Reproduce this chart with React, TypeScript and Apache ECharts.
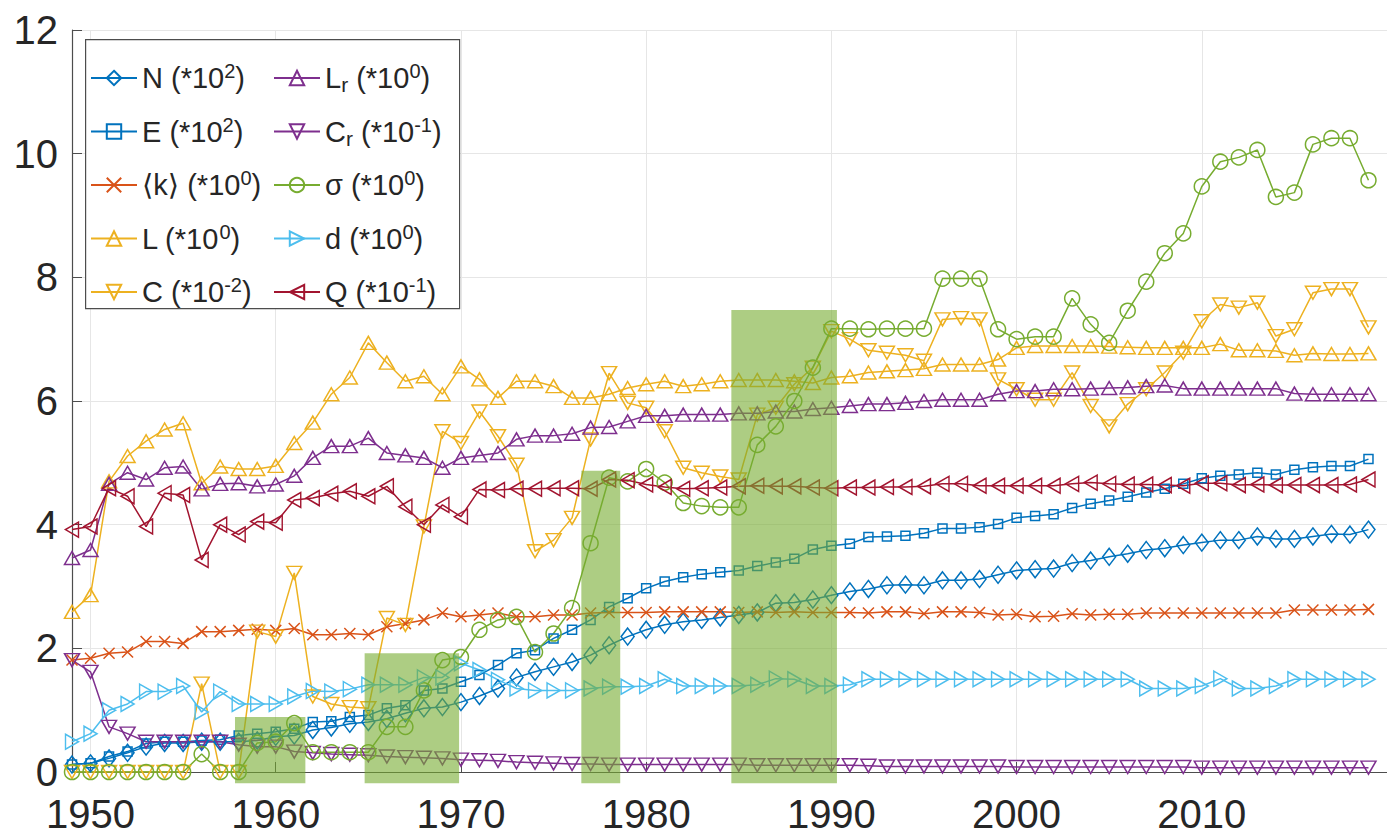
import React, { useEffect, useRef } from 'react';
import * as echarts from 'echarts';

const years = [
  1949, 1950, 1951, 1952, 1953, 1954, 1955, 1956, 1957, 1958,
  1959, 1960, 1961, 1962, 1963, 1964, 1965, 1966, 1967, 1968,
  1969, 1970, 1971, 1972, 1973, 1974, 1975, 1976, 1977, 1978,
  1979, 1980, 1981, 1982, 1983, 1984, 1985, 1986, 1987, 1988,
  1989, 1990, 1991, 1992, 1993, 1994, 1995, 1996, 1997, 1998,
  1999, 2000, 2001, 2002, 2003, 2004, 2005, 2006, 2007, 2008,
  2009, 2010, 2011, 2012, 2013, 2014, 2015, 2016, 2017, 2018, 2019,
];

const N = [
  0.12, 0.14, 0.22, 0.31, 0.41, 0.47, 0.47, 0.49, 0.49, 0.49,
  0.51, 0.57, 0.59, 0.68, 0.72, 0.78, 0.81, 0.86, 0.95, 1.03,
  1.05, 1.13, 1.23, 1.35, 1.53, 1.62, 1.70, 1.78, 1.89, 2.05,
  2.19, 2.30, 2.38, 2.43, 2.46, 2.50, 2.54, 2.58, 2.73, 2.74,
  2.79, 2.86, 2.92, 2.96, 3.02, 3.03, 3.02, 3.10, 3.10, 3.12,
  3.19, 3.26, 3.28, 3.29, 3.38, 3.42, 3.48, 3.53, 3.59, 3.62,
  3.67, 3.71, 3.75, 3.75, 3.81, 3.77, 3.77, 3.81, 3.85, 3.84, 3.92,
];
const E = [
  0.12, 0.14, 0.25, 0.33, 0.46, 0.49, 0.49, 0.51, 0.52, 0.59,
  0.62, 0.65, 0.70, 0.81, 0.82, 0.89, 0.92, 1.03, 1.08, 1.32,
  1.35, 1.46, 1.57, 1.73, 1.92, 1.97, 2.16, 2.30, 2.46, 2.67,
  2.81, 2.97, 3.08, 3.15, 3.20, 3.23, 3.26, 3.33, 3.39, 3.45,
  3.60, 3.66, 3.69, 3.80, 3.81, 3.82, 3.86, 3.94, 3.94, 3.96,
  4.01, 4.11, 4.14, 4.17, 4.27, 4.34, 4.39, 4.45, 4.52, 4.58,
  4.66, 4.75, 4.79, 4.81, 4.84, 4.81, 4.89, 4.93, 4.95, 4.95, 5.06,
];
const K = [
  1.81, 1.84, 1.92, 1.94, 2.11, 2.11, 2.08, 2.27, 2.27, 2.29,
  2.31, 2.29, 2.32, 2.22, 2.22, 2.24, 2.22, 2.35, 2.40, 2.46,
  2.57, 2.51, 2.54, 2.57, 2.51, 2.51, 2.54, 2.54, 2.57, 2.58,
  2.58, 2.58, 2.59, 2.59, 2.59, 2.59, 2.58, 2.59, 2.58, 2.59,
  2.58, 2.58, 2.58, 2.57, 2.59, 2.59, 2.56, 2.59, 2.59, 2.58,
  2.54, 2.55, 2.51, 2.52, 2.56, 2.54, 2.55, 2.55, 2.57, 2.57,
  2.57, 2.57, 2.57, 2.57, 2.57, 2.57, 2.62, 2.62, 2.62, 2.62, 2.63,
];
const L = [
  2.59, 2.86, 4.70, 5.11, 5.35, 5.54, 5.64, 4.67, 4.94, 4.90,
  4.90, 4.95, 5.32, 5.65, 6.11, 6.38, 6.94, 6.62, 6.32, 6.40,
  6.11, 6.56, 6.35, 6.05, 6.32, 6.32, 6.24, 6.05, 6.05, 6.11,
  6.21, 6.27, 6.32, 6.24, 6.27, 6.32, 6.34, 6.34, 6.34, 6.32,
  6.29, 6.38, 6.40, 6.46, 6.48, 6.50, 6.52, 6.59, 6.59, 6.59,
  6.67, 6.86, 6.89, 6.89, 6.89, 6.89, 6.88, 6.87, 6.86, 6.86,
  6.86, 6.86, 6.92, 6.82, 6.82, 6.81, 6.74, 6.77, 6.76, 6.76, 6.77,
];
const C = [
  0, 0, 0, 0, 0, 0, 0, 1.43, 0, 0,
  2.27, 2.19, 3.22, 1.22, 1.10, 1.05, 1.03, 2.49, 2.38, 3.97,
  5.51, 5.32, 5.83, 5.43, 4.97, 3.57, 3.75, 4.11, 5.38, 6.45,
  5.97, 5.89, 5.51, 4.92, 4.84, 4.78, 4.73, 5.78, 5.89, 6.27,
  6.54, 7.13, 7.00, 6.82, 6.78, 6.74, 6.65, 7.32, 7.34, 7.32,
  6.35, 6.19, 6.02, 6.02, 6.46, 5.92, 5.59, 5.95, 6.19, 6.46,
  6.78, 7.29, 7.56, 7.51, 7.59, 7.05, 7.16, 7.75, 7.81, 7.81, 7.19,
];
const Lr = [
  3.46, 3.59, 4.66, 4.84, 4.73, 4.92, 4.94, 4.57, 4.66, 4.67,
  4.62, 4.65, 4.79, 5.08, 5.27, 5.27, 5.40, 5.16, 5.12, 5.08,
  4.92, 5.08, 5.12, 5.16, 5.38, 5.44, 5.44, 5.47, 5.57, 5.58,
  5.67, 5.76, 5.76, 5.78, 5.78, 5.78, 5.80, 5.80, 5.83, 5.83,
  5.87, 5.89, 5.92, 5.95, 5.95, 5.97, 6.00, 6.02, 6.02, 6.02,
  6.11, 6.16, 6.16, 6.19, 6.19, 6.20, 6.21, 6.22, 6.24, 6.25,
  6.20, 6.20, 6.20, 6.20, 6.20, 6.20, 6.12, 6.11, 6.11, 6.11, 6.11,
];
const Cr = [
  1.81, 1.62, 0.73, 0.62, 0.49, 0.49, 0.49, 0.49, 0.49, 0.44,
  0.41, 0.41, 0.33, 0.31, 0.29, 0.28, 0.27, 0.25, 0.24, 0.23,
  0.22, 0.20, 0.19, 0.18, 0.16, 0.15, 0.14, 0.13, 0.13, 0.12,
  0.12, 0.12, 0.12, 0.12, 0.12, 0.12, 0.12, 0.11, 0.11, 0.11,
  0.11, 0.11, 0.11, 0.10, 0.09, 0.09, 0.09, 0.09, 0.09, 0.09,
  0.09, 0.08, 0.08, 0.08, 0.08, 0.08, 0.08, 0.08, 0.08, 0.08,
  0.08, 0.07, 0.07, 0.07, 0.07, 0.07, 0.07, 0.07, 0.07, 0.07, 0.07,
];
const SIGMA = [
  0, 0, 0, 0, 0, 0, 0, 0.29, 0, 0,
  0.47, 0.49, 0.79, 0.32, 0.32, 0.32, 0.32, 0.73, 0.73, 1.32,
  1.81, 1.86, 2.30, 2.46, 2.51, 1.94, 2.24, 2.65, 3.70, 4.76,
  4.70, 4.90, 4.68, 4.35, 4.30, 4.28, 4.28, 5.29, 5.59, 6.00,
  6.54, 7.17, 7.17, 7.16, 7.17, 7.17, 7.17, 7.98, 7.98, 7.98,
  7.16, 7.00, 7.04, 7.04, 7.66, 7.24, 6.94, 7.46, 7.93, 8.39,
  8.71, 9.47, 9.87, 9.94, 10.06, 9.30, 9.37, 10.15, 10.25, 10.25, 9.57,
];
const D = [
  0.49, 0.62, 1.00, 1.10, 1.30, 1.30, 1.39, 0.97, 1.30, 1.10,
  1.10, 1.10, 1.22, 1.31, 1.30, 1.34, 1.41, 1.41, 1.41, 1.53,
  1.53, 1.76, 1.65, 1.49, 1.35, 1.32, 1.32, 1.32, 1.35, 1.38,
  1.38, 1.39, 1.50, 1.39, 1.39, 1.39, 1.39, 1.41, 1.51, 1.50,
  1.39, 1.39, 1.41, 1.50, 1.50, 1.50, 1.50, 1.50, 1.50, 1.50,
  1.50, 1.50, 1.50, 1.50, 1.50, 1.50, 1.50, 1.50, 1.35, 1.35,
  1.35, 1.39, 1.51, 1.35, 1.35, 1.39, 1.50, 1.50, 1.50, 1.50, 1.50,
];
const Q = [
  3.92, 3.97, 4.59, 4.46, 3.97, 4.51, 4.48, 3.43, 4.00, 3.84,
  4.05, 4.03, 4.40, 4.43, 4.50, 4.54, 4.46, 4.62, 4.29, 4.00,
  4.32, 4.13, 4.57, 4.56, 4.58, 4.58, 4.59, 4.59, 4.58, 4.73,
  4.72, 4.65, 4.61, 4.58, 4.59, 4.60, 4.62, 4.63, 4.62, 4.62,
  4.60, 4.59, 4.60, 4.60, 4.61, 4.61, 4.62, 4.66, 4.66, 4.63,
  4.63, 4.63, 4.63, 4.63, 4.66, 4.68, 4.66, 4.65, 4.65, 4.64,
  4.63, 4.67, 4.67, 4.64, 4.65, 4.64, 4.64, 4.64, 4.64, 4.65, 4.73,
];

// shaded periods (green bars)
const shadeStart = [1957.8, 1964.8, 1976.5, 1984.6];
const shadeEnd = [1961.6, 1969.9, 1978.6, 1990.3];
const shadeTop = [0.89, 1.92, 4.87, 7.47];
const shadeBottom = -0.18;

const xTickValues = [1950, 1960, 1970, 1980, 1990, 2000, 2010];

const FONT = "'Liberation Sans', Arial, 'DejaVu Sans', sans-serif";

const SYM = {
  x: 'path://M0,0L10,10M10,0L0,10',
  down: 'path://M0,0L10,0L5,9Z',
  right: 'path://M0,0L9,5L0,10Z',
  left: 'path://M9,0L0,5L9,10Z',
};

const seriesDefs = [
  { name: 'N', values: N, color: '#0072BD', symbol: 'diamond', size: [13, 17] },
  { name: 'E', values: E, color: '#0072BD', symbol: 'rect', size: 9 },
  { name: 'k', values: K, color: '#D95319', symbol: SYM.x, size: 11 },
  { name: 'L', values: L, color: '#EDB120', symbol: 'triangle', size: [15, 13] },
  { name: 'C', values: C, color: '#EDB120', symbol: SYM.down, size: [15, 13] },
  { name: 'Lr', values: Lr, color: '#7E2F8E', symbol: 'triangle', size: [15, 13] },
  { name: 'Cr', values: Cr, color: '#7E2F8E', symbol: SYM.down, size: [15, 13] },
  { name: 'sigma', values: SIGMA, color: '#77AC30', symbol: 'circle', size: 15 },
  { name: 'd', values: D, color: '#4DBEEE', symbol: SYM.right, size: [13, 15] },
  { name: 'Q', values: Q, color: '#A2142F', symbol: SYM.left, size: [13, 15] },
];

const legendLabels: Record<string, string> = {
  N: 'N (*10{sup|2})',
  E: 'E (*10{sup|2})',
  k: '\u27E8k\u27E9 (*10{sup|0})',
  L: 'L (*10{sup|0})',
  C: 'C (*10{sup|-2})',
  Lr: 'L{sub|r} (*10{sup|0})',
  Cr: 'C{sub|r} (*10{sup|-1})',
  sigma: '\u03C3 (*10{sup|0})',
  d: 'd (*10{sup|0})',
  Q: 'Q (*10{sup|-1})',
};

const legendCol1 = ['N', 'E', 'k', 'L', 'C'];
const legendCol2 = ['Lr', 'Cr', 'sigma', 'd', 'Q'];

export default function App() {
  const ref = useRef<HTMLDivElement>(null);

  useEffect(() => {
    if (!ref.current) return;
    const chart = echarts.init(ref.current, undefined, { renderer: 'svg' });

    const legendText = {
      fontSize: 29,
      color: '#262626',
      fontFamily: FONT,
      lineHeight: 34,
      rich: {
        sup: { fontSize: 20, lineHeight: 18, verticalAlign: 'top', color: '#262626', fontFamily: FONT },
        sub: { fontSize: 21, lineHeight: 8, verticalAlign: 'bottom', color: '#262626', fontFamily: FONT },
      },
    };

    const makeLegend = (data: string[], left: number) => ({
      data,
      orient: 'vertical',
      left,
      top: 61,
      padding: 0,
      itemGap: 19.5,
      itemWidth: 46,
      itemHeight: 18,
      selectedMode: false,
      formatter: (name: string) => legendLabels[name],
      textStyle: legendText,
      z: 10,
    });

    const lineSeries = seriesDefs.map((s) => ({
      name: s.name,
      type: 'line',
      data: years.map((y, i) => [y, s.values[i]]),
      symbol: s.symbol,
      symbolSize: s.size,
      showAllSymbol: true,
      lineStyle: { color: s.color, width: 1.5 },
      itemStyle: { color: 'rgba(255,255,255,0)', borderColor: s.color, borderWidth: 1.5 },
      z: 2,
    }));

    const shadeData = shadeStart.map((x0, i) => [x0, shadeEnd[i], shadeTop[i], shadeBottom]);

    const option = {
      animation: false,
      backgroundColor: '#ffffff',
      grid: { left: 72, right: -11, top: 30, bottom: 64, containLabel: false },
      xAxis: {
        type: 'value',
        min: 1949,
        max: 2020,
        axisLine: { show: true, onZero: false, lineStyle: { color: '#4d4d4d', width: 1.2 } },
        axisTick: { show: true, inside: true, length: 10, customValues: xTickValues, lineStyle: { color: '#4d4d4d' } },
        axisLabel: {
          customValues: xTickValues,
          formatter: (v: number) => String(v),
          fontSize: 40,
          color: '#262626',
          fontFamily: FONT,
          margin: 22,
        },
        splitLine: { show: true, lineStyle: { color: '#e6e6e6', width: 1 } },
      },
      yAxis: {
        type: 'value',
        min: 0,
        max: 12,
        interval: 2,
        axisLine: { show: true, lineStyle: { color: '#4d4d4d', width: 1.2 } },
        axisTick: { show: true, inside: true, length: 10, lineStyle: { color: '#4d4d4d' } },
        axisLabel: { fontSize: 40, color: '#262626', fontFamily: FONT, margin: 14 },
        splitLine: { show: true, lineStyle: { color: '#e6e6e6', width: 1 } },
      },
      legend: [makeLegend(legendCol1, 90), makeLegend(legendCol2, 273)],
      graphic: [
        {
          type: 'rect',
          left: 85,
          top: 39,
          shape: { width: 374, height: 269 },
          style: { fill: '#ffffff', stroke: '#4d4d4d', lineWidth: 1.2 },
          z: 5,
        },
      ],
      series: [
        ...lineSeries,
        {
          name: 'shade',
          type: 'custom',
          clip: false,
          z: 3,
          data: shadeData,
          encode: { x: [0, 1], y: [2, 3] },
          renderItem: (_params: any, api: any) => {
            const p0 = api.coord([api.value(0), api.value(2)]);
            const p1 = api.coord([api.value(1), api.value(3)]);
            return {
              type: 'rect',
              shape: { x: p0[0], y: p0[1], width: p1[0] - p0[0], height: p1[1] - p0[1] },
              style: { fill: 'rgba(119,172,48,0.6)' },
            };
          },
        },
      ],
    };

    chart.setOption(option as any);
    return () => chart.dispose();
  }, []);

  return (
    <div
      ref={ref}
      style={{ position: 'fixed', left: 0, top: 0, width: 1387, height: 836, background: '#fff' }}
    />
  );
}
